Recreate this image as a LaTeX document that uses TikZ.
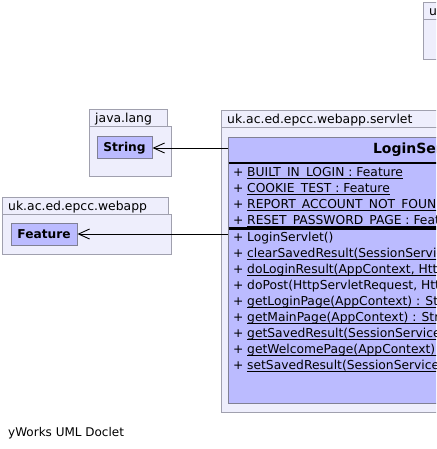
\documentclass[tikz,border=0pt]{standalone}
\usepackage{fontspec}
\setmainfont{DejaVu Sans}
\usetikzlibrary{arrows.meta}
\definecolor{pkgfill}{RGB}{238,238,252}
\definecolor{pkgline}{RGB}{160,160,174}
\definecolor{clsfill}{RGB}{187,187,255}
\definecolor{clsline}{RGB}{128,128,148}
\newcommand\statictext[1]{\setbox0\hbox{#1}\rlap{\rule[-2.8pt]{\wd0}{0.9pt}}\box0}
\begin{document}
\begin{tikzpicture}[
    x=1pt,y=-1pt,
    every node/.style={font=\fontsize{12.3}{14}\selectfont,inner sep=0pt},
    pkg/.style={draw=pkgline,fill=pkgfill,line width=1pt},
    pkgname/.style={anchor=base west,font=\fontsize{12.4}{14}\selectfont},
    cls/.style={draw=clsline,fill=clsfill,line width=1pt},
    clsname/.style={font=\fontsize{12.2}{14}\selectfont\bfseries},
    uses/.style={-{Straight Barb[length=11pt,width=10pt]},line width=0.9pt}]
    \useasboundingbox[fill=white] (0,0) rectangle (436,449);
    \clip (0,0) rectangle (436,449);
    % packages
    \draw[pkg] (423,3) rectangle (460,20);
    \draw[pkg] (423,20) rectangle (470,60);
    \node[pkgname] (pkgtop) at (429,16) {uk.ac.ed.epcc.webapp};
    \draw[pkg] (89,110) rectangle (167,127);
    \draw[pkg] (89,127) rectangle (171,176);
    \node[pkgname] (pkglang) at (95,123) {java.lang};
    \draw[pkg] (2,197) rectangle (168,214);
    \draw[pkg] (2,214) rectangle (171,254);
    \node[pkgname] (pkgwebapp) at (8,210) {uk.ac.ed.epcc.webapp};
    \draw[pkg] (221,111) rectangle (640,128);
    \draw[pkg] (221,128) rectangle (640,412);
    \node[pkgname] (pkgservlet) at (227,124) {uk.ac.ed.epcc.webapp.servlet};
    % classes
    \node[cls,clsname,minimum width=55,minimum height=22] (string) at (124.5,148) {String};
    \node[cls,clsname,minimum width=66,minimum height=22] (feature) at (44,234) {Feature};
    \node[cls,anchor=north west,minimum width=390,minimum height=266] (login) at (228,137) {};
    \node[font=\fontsize{14}{16}\selectfont\bfseries] (loginname) at (423,150) {LoginServlet};
    \draw[line width=1.2pt] (228.5,163) -- (618,163);
    \draw[line width=2.4pt] (228.5,228.5) -- (618,228.5);
    \foreach \n/\t in {0/{BUILT\_IN\_LOGIN : Feature},1/{COOKIE\_TEST : Feature},
        2/{REPORT\_ACCOUNT\_NOT\_FOUND : Feature},3/{RESET\_PASSWORD\_PAGE : Feature}} {
        \node[anchor=base west] (attrsign\n) at (233,176+16*\n) {+};
        \node[anchor=base west] (attr\n) at (247,176+16*\n) {\statictext{\t}};
    }
    \foreach \n/\t/\s in {0/{LoginServlet()}/0,
        1/{clearSavedResult(SessionService) : void}/1,
        2/{doLoginResult(AppContext, HttpServletRequest, HttpServletResponse) : void}/1,
        3/{doPost(HttpServletRequest, HttpServletResponse) : void}/0,
        4/{getLoginPage(AppContext) : String}/1,
        5/{getMainPage(AppContext) : String}/1,
        6/{getSavedResult(SessionService) : FormResult}/1,
        7/{getWelcomePage(AppContext) : String}/1,
        8/{setSavedResult(SessionService, FormResult) : void}/1} {
        \node[anchor=base west] (opsign\n) at (233,241+16*\n) {+};
        \node[anchor=base west] (op\n) at (247,241+16*\n) {\ifnum\s=1 \statictext{\t}\else\t\fi};
    }
    % dependencies
    \draw[uses] (login.west |- string.east) -- (string.east);
    \draw[uses] (login.west |- feature.east) -- (feature.east);
    \node[anchor=base west,font=\fontsize{12}{14}\selectfont] (doclet) at (8,436) {yWorks UML Doclet};
\end{tikzpicture}
\end{document}
